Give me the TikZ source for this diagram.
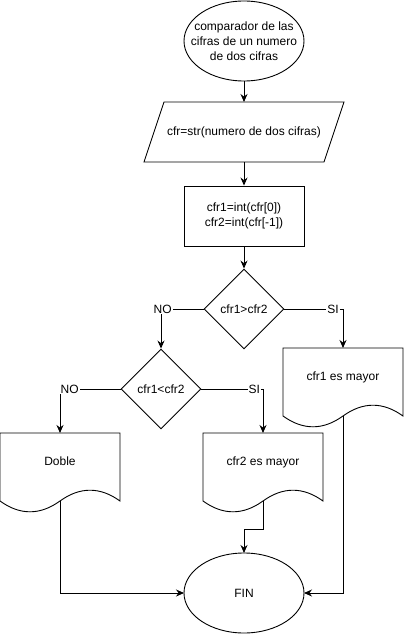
\documentclass[tikz,border=0pt]{standalone}
\usepackage{fontspec}
\setmainfont{Liberation Sans}
\usetikzlibrary{shapes.geometric}
\usetikzlibrary{arrows.meta}

\tikzset{
  texto/.style={font=\fontsize{12}{15}\selectfont, align=center},
  terminal/.style={texto, minimum width=120pt, minimum height=80pt, outer sep=0pt},
  entrada/.style={texto, minimum width=200pt, minimum height=60pt, outer sep=0pt},
  proceso/.style={texto, draw, minimum width=120pt, minimum height=60pt},
  decision/.style={texto, draw, diamond, minimum width=80pt, minimum height=80pt, inner sep=1pt},
  documento/.style={texto, minimum width=120pt, minimum height=80pt, outer sep=0pt,
    text height=9pt, text depth=25pt},
  flecha/.style={-{Stealth[length=8pt,width=7pt]}},
  etiqueta/.style={texto, fill=white, inner sep=1pt}
}

\begin{document}
\begin{tikzpicture}[x=1pt,y=-1pt,line width=0.9pt]
\useasboundingbox (0,0) rectangle (404,634);

\node [terminal] (inicio) at (244,41) {comparador de las\\cifras de un numero\\de dos cifras};
\node [entrada] (leer) at (244,132) {cfr=str(numero de dos cifras)};
\node [proceso] (asignar) at (244,216) {cfr1=int(cfr[0])\\cfr2=int(cfr[-1])};
\node [decision] (mayor) at (244,309) {cfr1>cfr2};
\node [decision] (menor) at (161,389) {cfr1<cfr2};
\node [documento] (res1) at (343,388) {cfr1 es mayor};
\node [documento] (doble) at (60,473) {Doble};
\node [documento] (res2) at (263,473) {cfr2 es mayor};
\node [terminal] (fin) at (244,593) {FIN};

% ovalos
\foreach \n in {inicio,fin}
  \draw (\n.center) ellipse [x radius=60pt, y radius=40pt];
% paralelogramo
\draw [shift={(leer.north west)}] (20,0) -- (200,0) -- (180,60) -- (0,60) -- cycle;
% documentos
\foreach \n in {res1,doble,res2} {
  \draw [shift={(\n.north west)}] (0,0) -- (120,0) -- (120,68)
    .. controls (100,53.6) and (80,53.6) .. (60,68)
    .. controls (40,82.4) and (20,82.4) .. (0,68) -- cycle;
  \path [shift={(\n.north west)}] (60,68) coordinate (\n-sal);
}

\draw [flecha] (inicio.south) -- (leer.north);
\draw [flecha] (leer.south) -- (asignar.north);
\draw [flecha] (asignar.south) -- (mayor.north);
\draw [flecha] (mayor.west) -| node [etiqueta, pos=0.48] (no1) {NO} (menor.north);
\draw [flecha] (mayor.east) -| node [etiqueta, pos=0.415] (si1) {SI} (res1.north);
\draw [flecha] (menor.west) -| node [etiqueta, pos=0.42] (no2) {NO} (doble.north);
\draw [flecha] (menor.east) -| node [etiqueta, pos=0.43] (si2) {SI} (res2.north);
\draw [flecha] (doble-sal) |- (fin.west);
\draw [flecha] (res1-sal) |- (fin.east);
\draw [flecha] (res2-sal) -- ++(0,28) -| (fin.north);
\end{tikzpicture}
\end{document}
